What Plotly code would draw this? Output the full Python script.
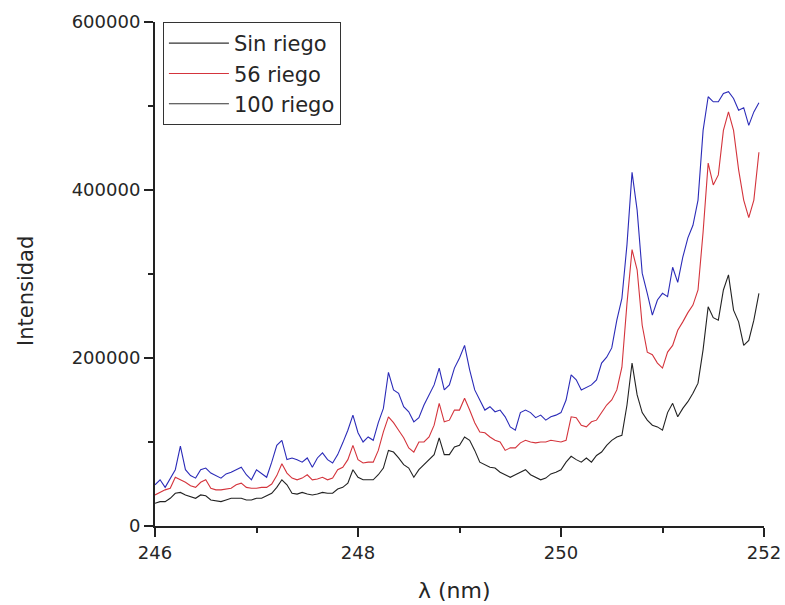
import numpy as np
import plotly.graph_objects as go

# Wavelength grid (nm)
wavelength = [round(246.0 + 0.05 * k, 2) for k in range(120)]

# Intensities (in thousands of counts)
sin_riego_k = [
    27, 29, 29, 33, 39, 40, 37, 35, 33, 37,
    36, 31, 30, 29, 31, 33, 33, 33, 31, 31,
    33, 33, 36, 39, 46, 55, 49, 39, 38, 40,
    38, 37, 38, 40, 39, 39, 44, 46, 51, 67,
    58, 55, 55, 55, 61, 69, 90, 88, 81, 73,
    69, 58, 67, 73, 79, 85, 105, 85, 85, 94,
    96, 106, 102, 90, 76, 73, 70, 69, 64, 61,
    58, 61, 64, 67, 61, 58, 55, 57, 62, 64,
    67, 76, 83, 79, 76, 81, 76, 84, 88, 96,
    102, 106, 108, 144, 194, 156, 135, 126, 120, 118,
    114, 135, 146, 130, 140, 148, 158, 170, 210, 261,
    248, 245, 281, 299, 257, 243, 215, 221, 245, 277,
]
riego_56_k = [
    37, 40, 43, 45, 58, 55, 52, 48, 46, 52,
    55, 45, 43, 43, 44, 45, 49, 51, 46, 45,
    45, 46, 46, 50, 60, 74, 63, 57, 55, 57,
    61, 55, 56, 58, 55, 57, 67, 70, 79, 96,
    79, 75, 76, 76, 90, 112, 130, 123, 114, 105,
    93, 88, 100, 100, 106, 120, 146, 124, 126, 138,
    138, 152, 138, 123, 112, 111, 106, 102, 100, 90,
    93, 93, 99, 102, 100, 99, 100, 100, 102, 101,
    100, 102, 130, 129, 120, 118, 124, 126, 135, 144,
    150, 162, 189, 265, 329, 305, 239, 207, 204, 194,
    188, 207, 215, 233, 243, 254, 263, 281, 350, 432,
    406, 418, 471, 493, 471, 424, 388, 367, 388, 445,
]
riego_100_k = [
    49, 55, 46, 57, 67, 95, 67, 60, 57, 67,
    69, 63, 60, 57, 62, 64, 67, 70, 61, 55,
    67, 62, 58, 76, 96, 102, 79, 81, 79, 76,
    81, 70, 81, 87, 79, 75, 85, 99, 114, 132,
    111, 100, 106, 102, 123, 140, 183, 162, 158, 142,
    136, 124, 129, 144, 156, 168, 188, 162, 168, 188,
    200, 215, 186, 162, 150, 138, 142, 136, 138, 130,
    118, 114, 135, 138, 135, 129, 132, 126, 130, 132,
    135, 150, 180, 174, 162, 165, 168, 174, 194, 201,
    212, 245, 271, 335, 421, 376, 301, 277, 251, 269,
    277, 273, 308, 290, 320, 343, 358, 388, 471, 511,
    505, 505, 515, 517, 509, 495, 498, 477, 493, 504,
]

series_names = ["Sin riego", "56 riego", "100 riego"]
x_ticks = [246, 248, 250, 252]
y_ticks = [0, 200000, 400000, 600000]
x_title = "λ (nm)"
y_title = "Intensidad"

sin_riego = [v * 1000 for v in sin_riego_k]
riego_56 = [v * 1000 for v in riego_56_k]
riego_100 = [v * 1000 for v in riego_100_k]

FONT = "DejaVu Sans, Liberation Sans, Arial, sans-serif"
INK = "#262626"

fig = go.Figure()
fig.add_trace(go.Scatter(x=wavelength, y=riego_100, mode="lines",
                         line=dict(color="#2b2bb8", width=1.1),
                         name=series_names[2], showlegend=False))
fig.add_trace(go.Scatter(x=wavelength, y=riego_56, mode="lines",
                         line=dict(color="#d4343c", width=1.1),
                         name=series_names[1], showlegend=False))
fig.add_trace(go.Scatter(x=wavelength, y=sin_riego, mode="lines",
                         line=dict(color="#222222", width=1.1),
                         name=series_names[0], showlegend=False))
# legend entries (as shown in the original legend)
legend_colors = ["#333333", "#d4343c", "#333333"]
for nm, col in zip(series_names, legend_colors):
    fig.add_trace(go.Scatter(x=[None], y=[None], mode="lines",
                             line=dict(color=col, width=1.1), name=nm))

fig.update_layout(
    width=785, height=605,
    margin=dict(l=155, r=21, t=22, b=79, autoexpand=False),
    paper_bgcolor="white", plot_bgcolor="white",
    font=dict(family=FONT, color=INK, size=18),
    showlegend=True,
    legend=dict(x=0.013, y=1.0, xanchor="left", yanchor="top",
                bordercolor="#333333", borderwidth=1, bgcolor="white",
                font=dict(size=21, family=FONT, color=INK),
                tracegroupgap=0, itemwidth=60),
    annotations=[
        dict(text=y_title, xref="paper", yref="paper", x=-0.212, y=0.466,
             textangle=-90, showarrow=False, xanchor="center", yanchor="middle",
             font=dict(size=21, family=FONT, color=INK)),
        dict(text=x_title, xref="paper", yref="paper", x=0.491, y=-0.127,
             showarrow=False, xanchor="center", yanchor="middle",
             font=dict(size=22, family=FONT, color=INK)),
    ],
)
fig.update_xaxes(
    range=[246, 252], tickvals=x_ticks, ticktext=[str(v) for v in x_ticks],
    automargin=False,
    showgrid=False, zeroline=False, showline=True, linecolor="#222222", linewidth=2,
    ticks="outside", ticklen=9, tickwidth=2, tickcolor="#222222",
    minor=dict(ticks="outside", ticklen=5, tickwidth=2, tickcolor="#222222", dtick=1, tick0=246, showgrid=False),
    tickfont=dict(size=18, family=FONT, color=INK),
)
fig.update_yaxes(
    range=[0, 600000], tickvals=y_ticks, ticktext=[str(v) for v in y_ticks],
    automargin=False,
    showgrid=False, zeroline=False, showline=True, linecolor="#222222", linewidth=2,
    ticks="outside", ticklen=9, tickwidth=2, tickcolor="#222222",
    minor=dict(ticks="outside", ticklen=5, tickwidth=2, tickcolor="#222222", dtick=100000, tick0=0, showgrid=False),
    tickfont=dict(size=18, family=FONT, color=INK),
)

fig.write_html("out.html", config={"displayModeBar": False},
               post_script="document.body.style.margin='0';document.body.style.overflow='hidden';")
